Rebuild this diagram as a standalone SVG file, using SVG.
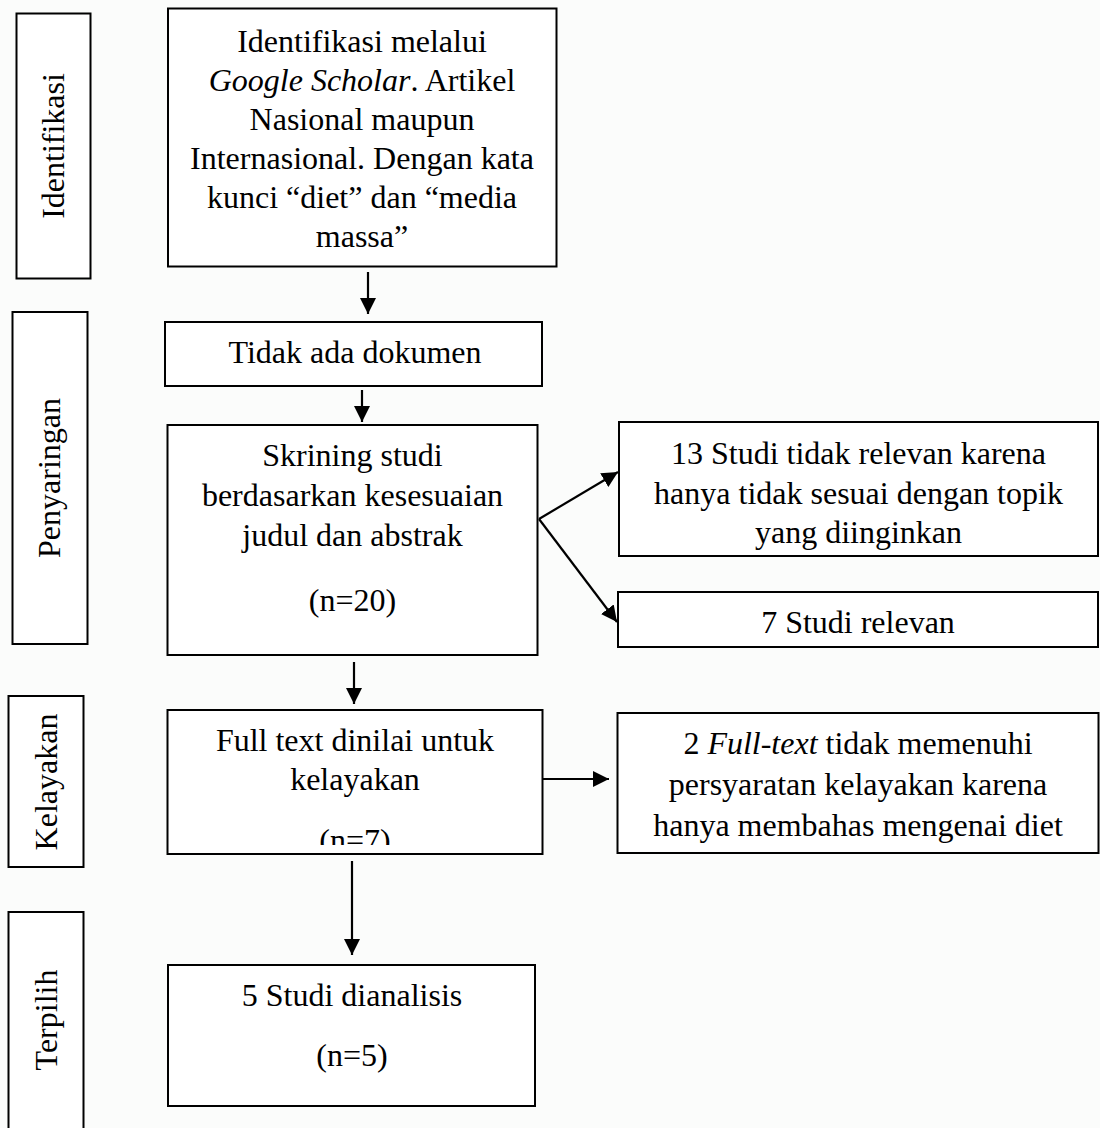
<svg xmlns="http://www.w3.org/2000/svg" width="1100" height="1128" viewBox="0 0 1100 1128">
<style>
.box{fill:#fff;stroke:#000;stroke-width:2}
.t{font-family:"Liberation Serif","Times New Roman",serif;font-size:32px;fill:#000;text-anchor:middle}
.i{font-style:italic}
.c{stroke:#000;stroke-width:2.2;fill:none}
</style>
<defs>
<marker id="ah" markerUnits="userSpaceOnUse" markerWidth="16" markerHeight="16" refX="16" refY="8" orient="auto">
<path d="M0,0 L16,8 L0,16 Z" fill="#000"/>
</marker>
<clipPath id="clip7"><rect x="168" y="710" width="374" height="135"/></clipPath>
</defs>
<rect x="0" y="0" width="1100" height="1128" fill="#fbfcfb"/>

<g id="label-identifikasi">
<rect class="box" x="16.5" y="13.5" width="74" height="265"/>
<text class="t" transform="translate(64,146) rotate(-90)">Identifikasi</text>
</g>
<g id="label-penyaringan">
<rect class="box" x="12.5" y="312" width="75" height="332"/>
<text class="t" transform="translate(60,478) rotate(-90)">Penyaringan</text>
</g>
<g id="label-kelayakan">
<rect class="box" x="8.5" y="696" width="75" height="171"/>
<text class="t" transform="translate(57,782) rotate(-90)">Kelayakan</text>
</g>
<g id="label-terpilih">
<rect class="box" x="8.5" y="912" width="75" height="240"/>
<text class="t" transform="translate(57,1020) rotate(-90)">Terpilih</text>
</g>

<g id="node-identifikasi">
<rect class="box" x="168" y="8.5" width="388.5" height="258"/>
<text class="t" x="362" y="52">Identifikasi melalui</text>
<text class="t" x="362" y="91"><tspan class="i">Google Scholar</tspan>. Artikel</text>
<text class="t" x="362" y="130">Nasional maupun</text>
<text class="t" x="362" y="169">Internasional. Dengan kata</text>
<text class="t" x="362" y="208">kunci “diet” dan “media</text>
<text class="t" x="362" y="247">massa”</text>
</g>

<g id="node-tidak-ada">
<rect class="box" x="165" y="322" width="377" height="64"/>
<text class="t" x="355" y="363">Tidak ada dokumen</text>
</g>

<g id="node-skrining">
<rect class="box" x="167.5" y="425" width="370" height="230"/>
<text class="t" x="352.5" y="466">Skrining studi</text>
<text class="t" x="352.5" y="506">berdasarkan kesesuaian</text>
<text class="t" x="352.5" y="546">judul dan abstrak</text>
<text class="t" x="352.5" y="611">(n=20)</text>
</g>

<g id="node-tidak-relevan">
<rect class="box" x="619" y="422" width="479" height="134"/>
<text class="t" x="858.5" y="464">13 Studi tidak relevan karena</text>
<text class="t" x="858.5" y="504">hanya tidak sesuai dengan topik</text>
<text class="t" x="858.5" y="543">yang diinginkan</text>
</g>

<g id="node-relevan">
<rect class="box" x="618" y="592" width="480" height="55"/>
<text class="t" x="858" y="633">7 Studi relevan</text>
</g>

<g id="node-fulltext">
<rect class="box" x="167.5" y="710" width="375" height="144"/>
<text class="t" x="355" y="751">Full text dinilai untuk</text>
<text class="t" x="355" y="790">kelayakan</text>
<text class="t" x="355" y="851" clip-path="url(#clip7)">(n=7)</text>
</g>

<g id="node-tidak-memenuhi">
<rect class="box" x="617.5" y="713" width="481" height="140"/>
<text class="t" x="858" y="754">2 <tspan class="i">Full-text</tspan> tidak memenuhi</text>
<text class="t" x="858" y="795">persyaratan kelayakan karena</text>
<text class="t" x="858" y="836">hanya membahas mengenai diet</text>
</g>

<g id="node-dianalisis">
<rect class="box" x="168" y="965" width="367" height="141"/>
<text class="t" x="352" y="1006">5 Studi dianalisis</text>
<text class="t" x="352" y="1066">(n=5)</text>
</g>

<g id="connectors">
<line class="c" x1="368" y1="272" x2="368" y2="314" marker-end="url(#ah)"/>
<line class="c" x1="362" y1="390" x2="362" y2="422" marker-end="url(#ah)"/>
<line class="c" x1="539" y1="519" x2="618" y2="472" marker-end="url(#ah)"/>
<line class="c" x1="539" y1="519" x2="617" y2="622" marker-end="url(#ah)"/>
<line class="c" x1="354" y1="662" x2="354" y2="704" marker-end="url(#ah)"/>
<line class="c" x1="542" y1="779" x2="609" y2="779" marker-end="url(#ah)"/>
<line class="c" x1="352" y1="861" x2="352" y2="955" marker-end="url(#ah)"/>
</g>
</svg>
